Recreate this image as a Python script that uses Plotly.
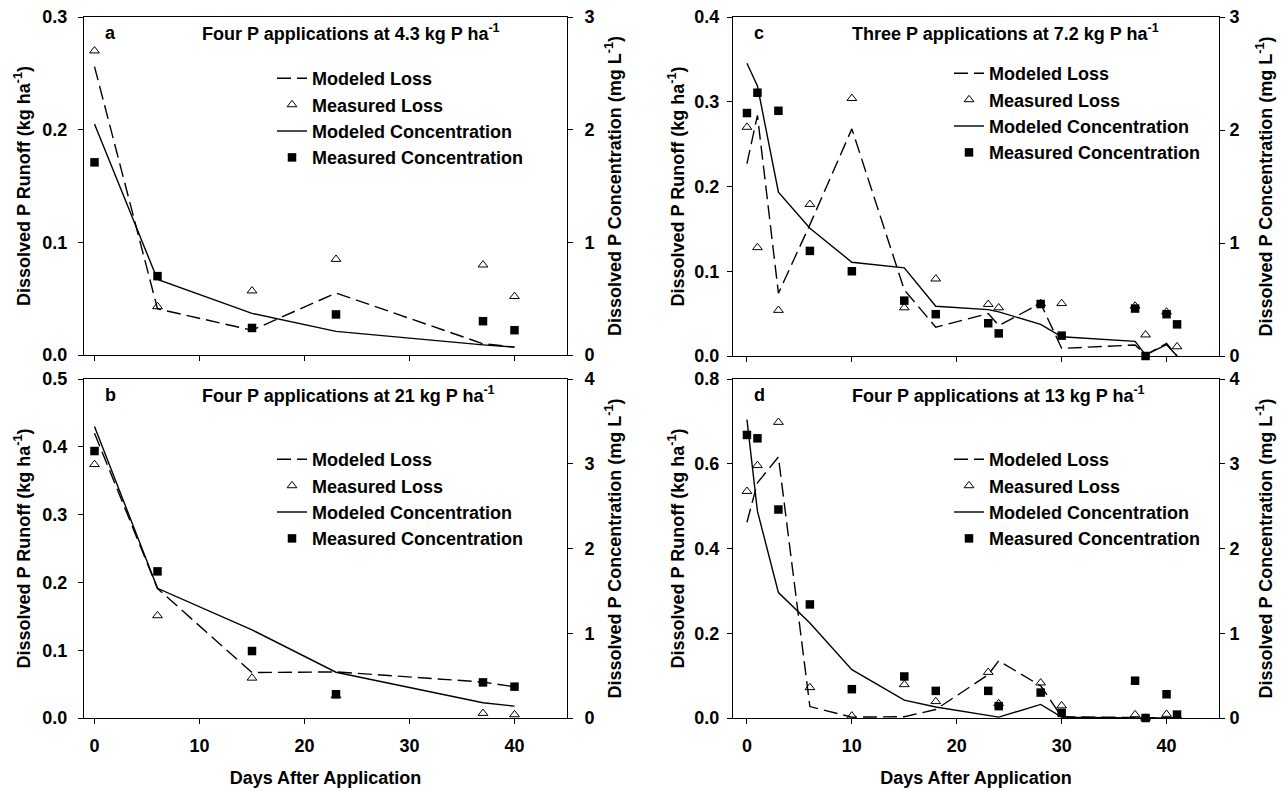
import plotly.graph_objects as go

# ---------------- data ----------------
# Panel a: Four P applications at 4.3 kg P ha-1
days_a = [0, 6, 15, 23, 37, 40]
mod_loss_a = [0.256, 0.041, 0.022, 0.055, 0.010, 0.007]
meas_loss_a = [0.270, 0.043, 0.057, 0.085, 0.080, 0.052]
mod_conc_a = [2.05, 0.67, 0.37, 0.21, 0.09, 0.07]
meas_conc_a = [1.71, 0.70, 0.24, 0.36, 0.30, 0.22]

# Panel b: Four P applications at 21 kg P ha-1
days_b = [0, 6, 15, 23, 37, 40]
mod_loss_b = [0.420, 0.191, 0.067, 0.068, 0.053, 0.046]
meas_loss_b = [0.374, 0.151, 0.059, 0.033, 0.007, 0.005]
mod_conc_b = [3.44, 1.53, 1.04, 0.54, 0.18, 0.14]
meas_conc_b = [3.15, 1.73, 0.79, 0.28, 0.42, 0.37]

# Panel c: Three P applications at 7.2 kg P ha-1
days_c = [0, 1, 3, 6, 10, 15, 18, 23, 24, 28, 30, 37, 38, 40, 41]
mod_loss_c = [0.227, 0.284, 0.074, 0.155, 0.268, 0.078, 0.034, 0.050, 0.036,
              0.062, 0.009, 0.013, 0.001, 0.015, 0.0]
meas_loss_c = [0.270, 0.128, 0.054, 0.179, 0.304, 0.057, 0.091, 0.061, 0.057,
               0.062, 0.062, 0.059, 0.025, 0.052, 0.011]
mod_conc_c = [2.59, 2.39, 1.45, 1.13, 0.83, 0.78, 0.44, 0.41, 0.39,
              0.28, 0.17, 0.13, 0.01, 0.10, 0.0]
meas_conc_c = [2.15, 2.33, 2.17, 0.93, 0.75, 0.49, 0.37, 0.29, 0.20,
               0.46, 0.18, 0.42, 0.0, 0.37, 0.28]

# Panel d: Four P applications at 13 kg P ha-1
days_d = [0, 1, 3, 6, 10, 15, 18, 23, 24, 28, 30, 37, 38, 40, 41]
mod_loss_d = [0.462, 0.555, 0.616, 0.027, 0.002, 0.003, 0.020, 0.102, 0.135,
              0.076, 0.003, 0.0, 0.0, 0.0, 0.0]
meas_loss_d = [0.535, 0.596, 0.698, 0.072, 0.005, 0.079, 0.039, 0.108, 0.034,
               0.083, 0.029, 0.008, 0.0, 0.009, 0.004]
mod_conc_d = [3.52, 2.44, 1.48, 1.12, 0.57, 0.21, 0.13, 0.03, 0.01,
              0.16, 0.01, 0.0, 0.0, 0.0, 0.0]
meas_conc_d = [3.34, 3.30, 2.46, 1.34, 0.34, 0.49, 0.32, 0.32, 0.14,
               0.30, 0.06, 0.44, 0.0, 0.28, 0.04]

panel_letters = ["a", "b", "c", "d"]
panel_titles = [
    "Four P applications at 4.3 kg P ha<sup>-1</sup>",
    "Four P applications at 21 kg P ha<sup>-1</sup>",
    "Three P applications at 7.2 kg P ha<sup>-1</sup>",
    "Four P applications at 13 kg P ha<sup>-1</sup>",
]
series_names = ["Modeled Loss", "Measured Loss", "Modeled Concentration", "Measured Concentration"]
loss_ranges = [[0, 0.3], [0, 0.5], [0, 0.4], [0, 0.8]]
loss_dticks = [0.1, 0.1, 0.1, 0.2]
conc_ranges = [[0, 3], [0, 4], [0, 3], [0, 4]]
x_ticks = [0, 10, 20, 30, 40]
x_title = "Days After Application"
y_left_title = "Dissolved P Runoff (kg ha<sup>-1</sup>)"
y_right_title = "Dissolved P Concentration (mg L<sup>-1</sup>)"

panels = [
    (days_a, mod_loss_a, meas_loss_a, mod_conc_a, meas_conc_a),
    (days_b, mod_loss_b, meas_loss_b, mod_conc_b, meas_conc_b),
    (days_c, mod_loss_c, meas_loss_c, mod_conc_c, meas_conc_c),
    (days_d, mod_loss_d, meas_loss_d, mod_conc_d, meas_conc_d),
]

# ---------------- layout geometry ----------------
# The page body has an 8px margin; the figure is sized so that, once offset,
# it fills the 1286x791 window exactly.  Positions below are window pixels.
OFF = 8
W, H = 1286 - OFF, 791 - OFF
FONT = "Liberation Sans, Arial, Helvetica, sans-serif"


def px_x(p):
    return (p - OFF) / W


def px_y(p):
    return 1 - (p - OFF) / H


x_doms = [[px_x(84), px_x(567)], [px_x(84), px_x(567)],
          [px_x(733), px_x(1219)], [px_x(733), px_x(1219)]]
y_doms = [[px_y(355), px_y(17)], [px_y(718), px_y(379)],
          [px_y(356), px_y(17)], [px_y(718), px_y(379)]]
x_ranges = [[-1, 45], [-1, 45], [-1.33, 45], [-1.33, 45]]
legend_pos = [(px_x(272), px_y(60)), (px_x(272), px_y(441)),
              (px_x(949), px_y(55)), (px_x(949), px_y(441))]
left_label_standoff = [7, 7, 4, 4]
right_label_standoff = [8, 8, 1, 1]
left_title_standoff = [7, 7, 5, 5]
right_title_standoff = [14, 14, 20, 20]

fig = go.Figure()
axis_font = dict(family=FONT, size=18, color="black", weight="bold")

for i, (days, mloss, eloss, mconc, econc) in enumerate(panels):
    n = i + 1
    xa = "x" if n == 1 else f"x{n}"
    ya = "y" if n == 1 else f"y{n}"
    ya2 = f"y{n + 4}"
    leg = "legend" if n == 1 else f"legend{n}"

    fig.add_trace(go.Scatter(x=days, y=mloss, mode="lines", name=series_names[0],
                             line=dict(color="black", width=1.4, dash="14px,6px"),
                             xaxis=xa, yaxis=ya, legend=leg))
    fig.add_trace(go.Scatter(x=days, y=eloss, mode="markers", name=series_names[1],
                             marker=dict(symbol="triangle-up-open", size=8.5, color="black",
                                         line=dict(width=1, color="black")),
                             cliponaxis=False, xaxis=xa, yaxis=ya, legend=leg))
    fig.add_trace(go.Scatter(x=days, y=mconc, mode="lines", name=series_names[2],
                             line=dict(color="black", width=1.4),
                             xaxis=xa, yaxis=ya2, legend=leg))
    fig.add_trace(go.Scatter(x=days, y=econc, mode="markers", name=series_names[3],
                             marker=dict(symbol="square", size=8.5, color="black"),
                             cliponaxis=False, xaxis=xa, yaxis=ya2, legend=leg))

    bottom = n in (2, 4)
    xkey = "xaxis" if n == 1 else f"xaxis{n}"
    ykey = "yaxis" if n == 1 else f"yaxis{n}"
    y2key = f"yaxis{n + 4}"

    fig.layout[xkey] = dict(
        domain=x_doms[i], range=x_ranges[i], anchor=ya, automargin=False,
        tickvals=x_ticks, showticklabels=bottom, ticks="outside", ticklen=5,
        tickcolor="black", showline=True, linecolor="black", linewidth=1,
        mirror=True, showgrid=False, zeroline=False, tickfont=axis_font,
        ticklabelstandoff=6, ticklabeloverflow="allow",
        title=dict(text=x_title if bottom else "", font=axis_font, standoff=16),
    )
    fig.layout[ykey] = dict(
        domain=y_doms[i], range=loss_ranges[i], anchor=xa, dtick=loss_dticks[i],
        automargin=False, ticklabeloverflow="allow",
        tick0=0, tickformat=".1f", ticks="outside", ticklen=5, tickcolor="black",
        showline=True, linecolor="black", linewidth=1, showgrid=False,
        zeroline=False, tickfont=axis_font, ticklabelstandoff=left_label_standoff[i],
        title=dict(text=y_left_title, font=axis_font, standoff=left_title_standoff[i]),
    )
    fig.layout[y2key] = dict(
        domain=y_doms[i], range=conc_ranges[i], anchor=xa, overlaying=ya,
        automargin=False, ticklabeloverflow="allow",
        side="right", dtick=1, tick0=0, ticks="outside", ticklen=5,
        tickcolor="black", showline=True, linecolor="black", linewidth=1,
        showgrid=False, zeroline=False, tickfont=axis_font,
        ticklabelstandoff=right_label_standoff[i],
        title=dict(text=y_right_title, font=axis_font, standoff=right_title_standoff[i]),
    )

    lx, ly = legend_pos[i]
    fig.layout[leg] = dict(
        x=lx, y=ly, xanchor="left", yanchor="top", bgcolor="rgba(0,0,0,0)",
        font=dict(family=FONT, size=18, color="black", weight="bold"),
        tracegroupgap=0, itemclick=False, itemdoubleclick=False,
    )

    # panel letter and title
    fig.add_annotation(xref=f"{xa} domain", yref=f"{ya} domain", x=0.039, y=0.953,
                       xanchor="left", yanchor="middle", showarrow=False,
                       text=panel_letters[i], font=axis_font)
    fig.add_annotation(xref=f"{xa} domain", yref=f"{ya} domain", x=0.241, y=0.953,
                       xanchor="left", yanchor="middle", showarrow=False,
                       text=panel_titles[i], font=axis_font)

fig.update_layout(
    template="none",
    width=W, height=H, margin=dict(l=0, r=0, t=0, b=0, autoexpand=False),
    paper_bgcolor="white", plot_bgcolor="white",
    font=dict(family=FONT, size=18, color="black"),
    showlegend=True,
)

fig.write_html("out.html")
